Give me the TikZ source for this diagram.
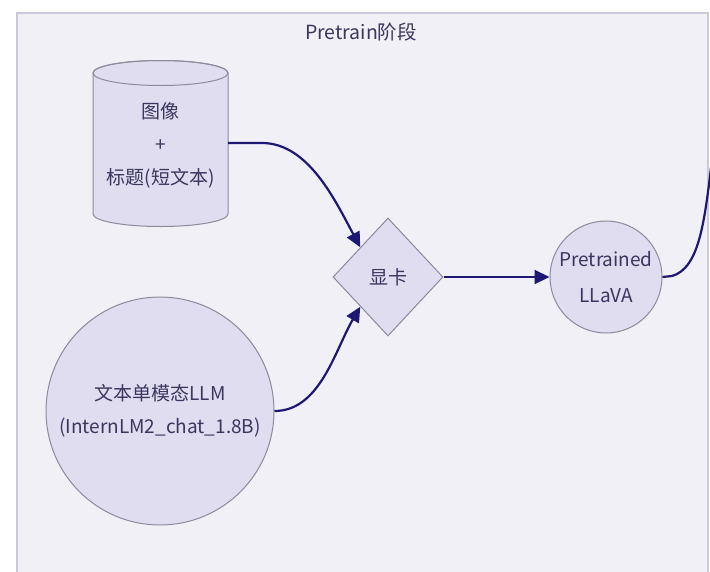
\documentclass[tikz,border=0pt]{standalone}
\usepackage{fontspec}
\setmainfont{Noto Sans CJK SC}
\usetikzlibrary{shapes.geometric,arrows.meta}
\definecolor{framebg}{HTML}{F1F0F6}
\definecolor{frameline}{HTML}{CCCAD8}
\definecolor{nodefill}{HTML}{DFDDEF}
\definecolor{nodeline}{HTML}{8C8A9C}
\definecolor{edgecol}{HTML}{1E1773}
\definecolor{textcol}{HTML}{3B365E}
\tikzset{
  nodetext/.style={text=textcol, font=\fontsize{19}{33}\selectfont, align=center, inner sep=0pt},
  roundnode/.style={circle, draw=nodeline, fill=nodefill, line width=1pt, text=textcol,
     font=\fontsize{19}{33}\selectfont, align=center, inner sep=0pt},
  decision/.style={diamond, aspect=1, draw=nodeline, fill=nodefill, line width=1pt, text=textcol,
     font=\fontsize{19}{22}\selectfont, inner sep=0pt, minimum width=110pt, minimum height=118pt},
  flow/.style={draw=edgecol, line width=2.2pt, -{Triangle[length=15pt,width=14pt]}},
  flowplain/.style={draw=edgecol, line width=2.2pt}
}
\begin{document}
\begin{tikzpicture}[x=1pt,y=-1pt]
\useasboundingbox (0,0) rectangle (710,571);
\fill[white] (0,0) rectangle (710,571);
\begin{scope}
\clip (0,0) rectangle (710,571);
\draw[frameline, fill=framebg, line width=1.5pt] (17,13) rectangle (708,600);
\node[text=textcol, font=\fontsize{19.5}{22}\selectfont, inner sep=0pt] (title) at (361,32) {Pretrain阶段};

% cylinder
\path[draw=nodeline, fill=nodefill, line width=1pt]
  (93,73) -- (93,214) arc[start angle=180, end angle=360, x radius=67.5pt, y radius=12.5pt]
  -- (228,73) arc[start angle=0, end angle=180, x radius=67.5pt, y radius=12.5pt] -- cycle;
\draw[nodeline, line width=1pt] (160.5,73) ellipse [x radius=67.5pt, y radius=12.5pt];
\node[nodetext] (data) at (160.5,145) {图像\\+\\标题(短文本)};
\coordinate (dataR) at (228,143);

\node[decision] (gpu) at (388,277) {显卡};
\node[roundnode, minimum size=112pt, font=\fontsize{19}{36}\selectfont] (llava) at (606,277) {Pretrained\\LLaVA};
\node[roundnode, minimum size=228pt] (llm) at (160,411) {文本单模态LLM\\(InternLM2\_chat\_1.8B)};
\coordinate (exit) at (713,150);

\draw[flow] (dataR) -- (262,143) .. controls (308,143) and (335,200) .. (gpu.north west);
\draw[flow] (llm.east) .. controls (320,411) and (335,350) .. (gpu.south west);
\draw[flow] (gpu.east) -- (llava.west);
\draw[flowplain] (llava.east) -- (672,276) .. controls (700,268) and (705,220) .. (exit);
\end{scope}
\end{tikzpicture}
\end{document}
